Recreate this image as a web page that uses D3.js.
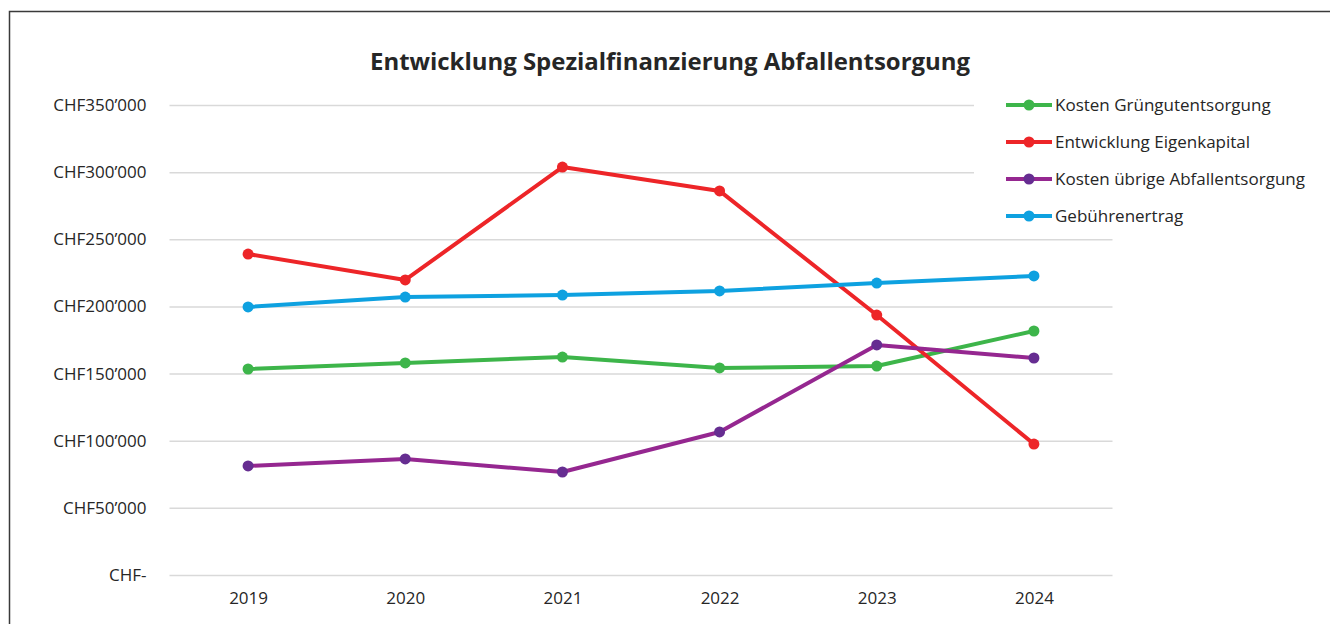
<!DOCTYPE html>
<html lang="de">
<head>
    <meta charset="UTF-8">
    <title>Entwicklung Spezialfinanzierung Abfallentsorgung</title>
    <script src="https://cdn.jsdelivr.net/npm/d3@7/dist/d3.min.js"></script>
    <style>
        body { margin: 0; background: #fff; }
        text { font-family: "Open Sans", "Noto Sans", sans-serif; fill: #262626; }
    </style>
</head>
<body>
    <svg id="svg" width="1330" height="624"></svg>
    <script>
        const years = ["2019", "2020", "2021", "2022", "2023", "2024"]
        const gruen = [153400, 157900, 162300, 154200, 155600, 181700]
        const eigenkapital = [239000, 219700, 303800, 286000, 193600, 97500]
        const uebrige = [81200, 86400, 76700, 106500, 171300, 161600]
        const ertrag = [199600, 207000, 208500, 211500, 217400, 222700]
        const yTicks = [0, 50000, 100000, 150000, 200000, 250000, 300000, 350000]

        const series = [
            {name: "Kosten Grüngutentsorgung", values: gruen, line: "#3db54a", dot: "#3db54a"},
            {name: "Entwicklung Eigenkapital", values: eigenkapital, line: "#ed2528", dot: "#ed2528"},
            {name: "Kosten übrige Abfallentsorgung", values: uebrige, line: "#952790", dot: "#662d91"},
            {name: "Gebührenertrag", values: ertrag, line: "#0ea1e0", dot: "#0ea1e0"}
        ]

        const svg = d3.select("#svg")
        const margin = {left: 169.5, right: 217.5, top: 105, bottom: 49}
        const width = +svg.attr("width"), height = +svg.attr("height")

        // frame of the chart area (only left and top edge are inside the view)
        svg.append("path")
            .attr("d", `M9.5,${height} V11.5 H${width}`)
            .attr("fill", "none").attr("stroke", "#3a3a3a").attr("stroke-width", 1.5)

        const x = d3.scalePoint()
            .domain(years)
            .range([margin.left, width - margin.right])
            .padding(0.5)

        const y = d3.scaleLinear()
            .domain([0, 350000])
            .range([height - margin.bottom, margin.top])

        const fmt = v => v === 0 ? "CHF-" : "CHF" + d3.format(",")(v).replace(/,/g, "’")

        const yAxis = d3.axisLeft(y)
            .tickValues(yTicks)
            .tickFormat(fmt)
            .tickSize(-(width - margin.left - margin.right))
            .tickPadding(23)

        const gy = svg.append("g")
            .attr("transform", `translate(${margin.left},0)`)
            .call(yAxis)
        gy.select(".domain").remove()
        gy.selectAll(".tick line").attr("stroke", "#d9d9d9").attr("stroke-width", 1.5)
        gy.selectAll(".tick text").attr("font-size", 17).attr("fill", "#262626")

        const xAxis = d3.axisBottom(x).tickSize(0).tickPadding(17)
        const gx = svg.append("g")
            .attr("transform", `translate(0,${height - margin.bottom})`)
            .call(xAxis)
        gx.select(".domain").remove()
        gx.selectAll(".tick text").attr("font-size", 17).attr("fill", "#262626")

        const line = d3.line()
            .x((d, i) => x(years[i]))
            .y(d => y(d))

        series.forEach(s => {
            const g = svg.append("g")
            g.append("path")
                .attr("d", line(s.values))
                .attr("fill", "none")
                .attr("stroke", s.line)
                .attr("stroke-width", 4)
                .attr("stroke-linejoin", "round")
            g.selectAll("circle").data(s.values).join("circle")
                .attr("cx", (d, i) => x(years[i]))
                .attr("cy", d => y(d))
                .attr("r", 5.5)
                .attr("fill", s.dot)
        })

        // title
        svg.append("text")
            .attr("x", 670).attr("y", 70)
            .attr("text-anchor", "middle")
            .attr("font-size", 24)
            .attr("font-weight", "bold")
            .attr("textLength", 600)
            .attr("lengthAdjust", "spacingAndGlyphs")
            .text("Entwicklung Spezialfinanzierung Abfallentsorgung")

        // legend, with white box covering the grid lines
        const legend = svg.append("g")
        legend.append("rect")
            .attr("x", 974).attr("y", 84).attr("width", 356).attr("height", 146)
            .attr("fill", "#fff")
        const rows = legend.selectAll(".row").data(series).join("g")
            .attr("class", "row")
            .attr("transform", (d, i) => `translate(1006,${105 + i * 37})`)
        rows.append("line")
            .attr("x1", 0).attr("x2", 46).attr("y1", 0).attr("y2", 0)
            .attr("stroke", d => d.line).attr("stroke-width", 4)
        rows.append("circle")
            .attr("cx", 23).attr("cy", 0).attr("r", 5.5)
            .attr("fill", d => d.dot)
        rows.append("text")
            .attr("x", 49).attr("y", 0).attr("dy", "0.35em")
            .attr("font-size", 17)
            .text(d => d.name)
    </script>
</body>
</html>
